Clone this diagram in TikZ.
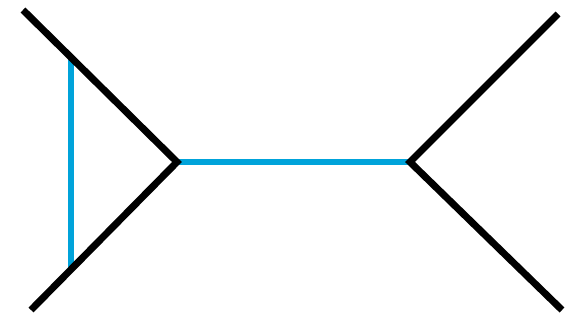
\documentclass[tikz,border=0pt]{standalone}
\definecolor{propblue}{RGB}{0,163,218}
\begin{document}
\begin{tikzpicture}[x=1pt,y=-1pt,
  blackline/.style={line width=7pt,black},
  blueline/.style={line width=6pt,propblue}]
\useasboundingbox (0,0) rectangle (586,321);
\coordinate (tl) at (23,10);
\coordinate (bl) at (31,310);
\coordinate (vl) at (177,162);
\coordinate (vr) at (410,162);
\coordinate (tr) at (558,14);
\coordinate (br) at (562,310);
\coordinate (ut) at (71,58);
\coordinate (ub) at (71,268);
\draw[blueline] (vl) -- (vr);
\draw[blueline] (ut) -- (ub);
\draw[blackline] (tl) -- (vl) -- (bl);
\draw[blackline] (tr) -- (vr) -- (br);
\end{tikzpicture}
\end{document}
